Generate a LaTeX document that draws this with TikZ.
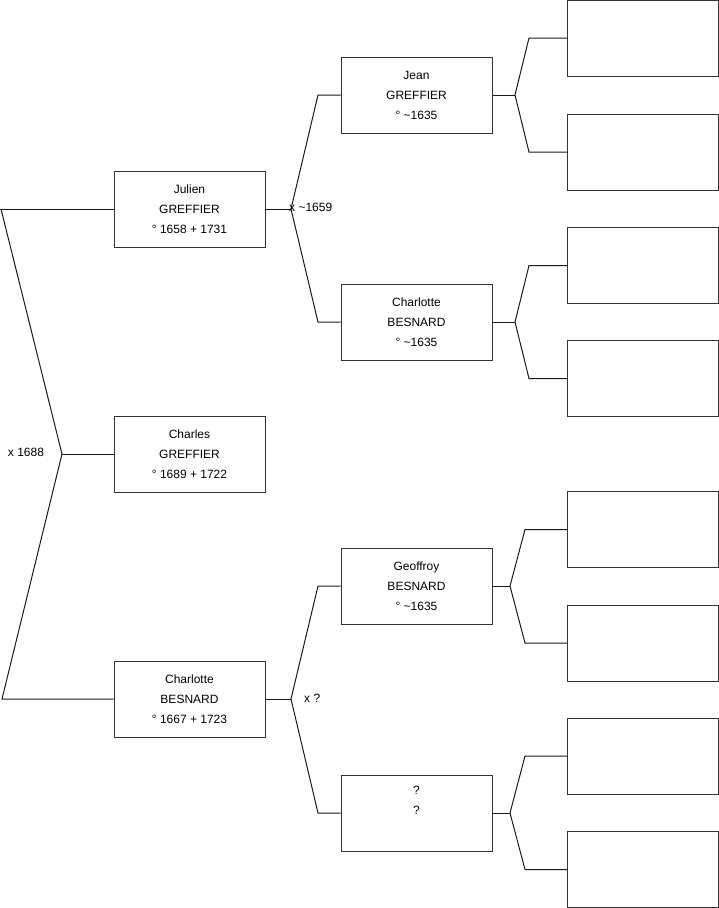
\documentclass[tikz,border=0pt]{standalone}
\usepackage{fontspec}
\setmainfont{Liberation Sans}
\begin{document}
\begin{tikzpicture}[x=1pt,y=-1pt,
	box/.style={draw=black!80,line width=1pt,minimum width=151pt,minimum height=76pt,inner sep=0pt,align=center,font=\fontsize{12}{20}\selectfont},
	lien/.style={black!90,line width=1pt},
	date/.style={inner sep=0pt,font=\fontsize{12}{14}\selectfont}]
				\useasboundingbox (0,0) rectangle (719,908);
				% Generation 1
				\node[box] (julien) at (189.5,209) {Julien\\GREFFIER\\° 1658 + 1731};
				\node[box] (charles) at (189.5,454) {Charles\\GREFFIER\\° 1689 + 1722};
				\node[box] (charlotte) at (189.5,699) {Charlotte\\BESNARD\\° 1667 + 1723};
				% Generation 2
				\node[box] (jean) at (416.5,95) {Jean\\GREFFIER\\° \textasciitilde1635};
				\node[box] (charlotteB) at (416.5,322) {Charlotte\\BESNARD\\° \textasciitilde1635};
				\node[box] (geoffroy) at (416.5,586) {Geoffroy\\BESNARD\\° \textasciitilde1635};
				\node[box] (inconnu) at (416.5,813) {?\\?\\\strut};
				% Generation 3 (vides)
				\foreach \y [count=\i] in {38,152,265.5,378.5,529.5,643,756,869.5}
				\node[box] (a\i) at (643,\y) {};
				% Mariage des parents de Charles
				\coordinate (rt) at (1,209);
				\coordinate (rb) at (2,699);
				\coordinate (r) at (62,454);
				\draw[lien] (julien.west) -- (0,209);
				\draw[lien] (rt) -- (r) -- (rb) -- (charlotte.west);
				\draw[lien] (r) -- (charles.west);
				\node[date] (m1) at (26,452) {x 1688};
				% Parents de Julien et de Charlotte
				\foreach \p/\y/\fx/\cx/\u/\l in {julien/209/291/318/jean/charlotteB, charlotte/699/291/318/geoffroy/inconnu}{
					\coordinate (f) at (\fx,\y);
					\coordinate (c) at (\cx,\y);
					\draw[lien] (\p.east) -- (f);
					\draw[lien] (\u.west) -- (c |- \u.west) -- (f) -- (c |- \l.west) -- (\l.west);
				}
				\node[date,anchor=west] (m2) at (289,207) {x \textasciitilde1659};
				\node[date,anchor=west] (m3) at (304,698) {x ?};
				% Generation 3
				\foreach \p/\y/\fx/\cx/\u/\l in {jean/95/515/529/a1/a2, charlotteB/322/515/529/a3/a4, geoffroy/586/510/525/a5/a6, inconnu/813/510/525/a7/a8}{
					\coordinate (f) at (\fx,\y);
					\coordinate (c) at (\cx,\y);
					\draw[lien] (\p.east) -- (f);
					\draw[lien] (\u.west) -- (c |- \u.west) -- (f) -- (c |- \l.west) -- (\l.west);
				}
\end{tikzpicture}
\end{document}
